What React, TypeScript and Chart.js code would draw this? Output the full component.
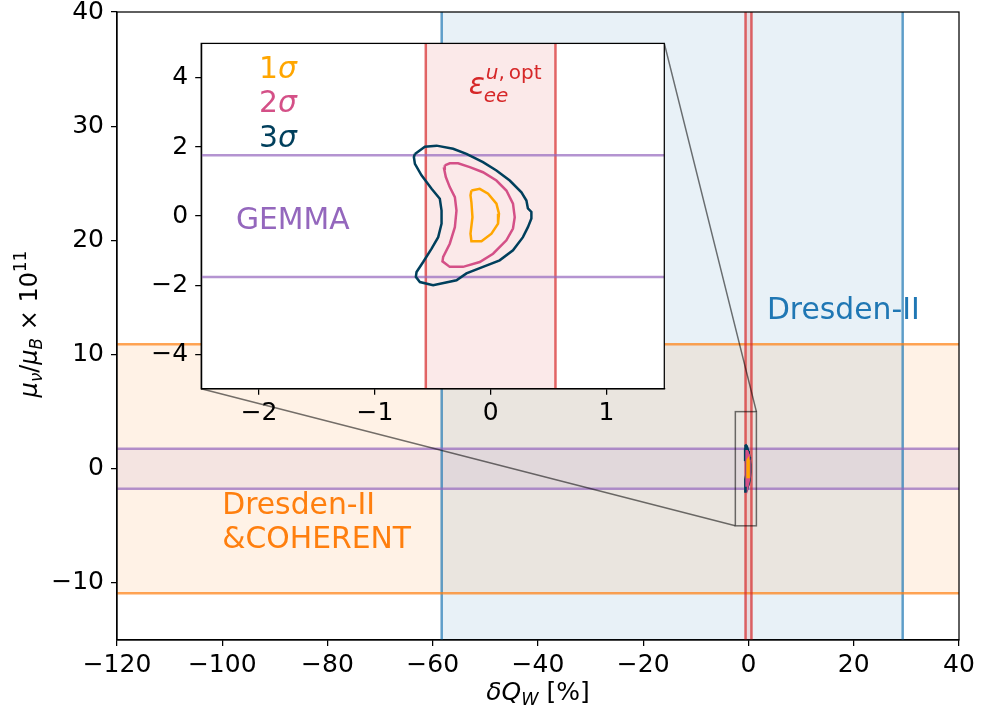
import React, { useEffect, useRef } from "react";
import { Chart, registerables } from "chart.js";
Chart.register(...registerables);

const W = 981;
const H = 715;
const FONT = '"DejaVu Sans", sans-serif';

// ---- main axes ----
const mainXRange = [-120, 40];
const mainYRange = [-15, 40];
const mainXTicks = [-120, -100, -80, -60, -40, -20, 0, 20, 40];
const mainYTicks = [-10, 0, 10, 20, 30, 40];

// ---- inset axes ----
const insetXRange = [-2.5, 1.5];
const insetYRange = [-5, 5];
const insetXTicks = [-2, -1, 0, 1];
const insetYTicks = [-4, -2, 0, 2, 4];
const insetBounds = [0.1, 0.4, 0.55, 0.55]; // axes fraction: x0, y0, width, height

// ---- limits ----
const dresdenQW = [-58.3, 29.3]; // delta Q_W [%]
const coherentMu = [-10.9, 10.9]; // mu_nu/mu_B x 1e11
const gemmaMu = [-1.76, 1.76];
const epsQW = [-0.56, 0.56];

// ---- contours ----
const sigma1X = [-0.166, -0.094, -0.022, 0.05, 0.072, 0.064, 0.007, -0.079, -0.166, -0.174, -0.157, -0.166, -0.174];
const sigma1Y = [0.74, 0.79, 0.65, 0.36, 0.07, -0.22, -0.51, -0.73, -0.73, -0.51, -0.03, 0.4, 0.6];
const sigma2X = [-0.396, -0.353, -0.281, -0.18, -0.066, 0.05, 0.136, 0.193, 0.208, 0.193, 0.136, 0.021, -0.094, -0.238, -0.353, -0.416, -0.41, -0.353, -0.309, -0.295, -0.309, -0.353, -0.387, -0.402];
const sigma2Y = [1.47, 1.53, 1.53, 1.42, 1.27, 1.03, 0.74, 0.36, -0.03, -0.36, -0.7, -1.09, -1.33, -1.47, -1.47, -1.31, -1.18, -0.8, -0.32, 0.16, 0.55, 0.84, 1.13, 1.37];
const sigma3X = [-0.654, -0.568, -0.467, -0.324, -0.209, -0.066, 0.05, 0.165, 0.266, 0.309, 0.322, 0.352, 0.352, 0.322, 0.279, 0.193, 0.078, -0.066, -0.209, -0.295, -0.497, -0.611, -0.646, -0.64, -0.583, -0.51, -0.453, -0.424, -0.424, -0.439, -0.51, -0.597, -0.654, -0.663];
const sigma3Y = [1.8, 2.01, 2.04, 1.95, 1.8, 1.56, 1.32, 1.03, 0.69, 0.45, 0.22, 0.12, -0.07, -0.32, -0.61, -0.99, -1.28, -1.47, -1.66, -1.86, -2.0, -1.91, -1.76, -1.62, -1.33, -0.94, -0.61, -0.22, 0.16, 0.5, 0.79, 1.18, 1.51, 1.71];

// ---- labels ----
const sigmaLabels = ["1", "2", "3"];
const sigmaColors = ["#ffa600", "#d45087", "#003f5c"];
const sigmaLabelY = [4, 3, 2];
const sigmaLabelX = -2;
const dresdenLabelPos = [3.5, 13.1];
const coherentLabelPos = [-100, -4.0, -6.95];
const gemmaLabelPos = [-2.2, -0.36];
const epsLabelPos = [-0.19, 3.54];

const BLUE = "#1f77b4";
const ORANGE = "#ff7f0e";
const PURPLE = "#9467bd";
const RED = "#d62728";
const rgba = (hex: string, a: number) => {
  const n = parseInt(hex.slice(1), 16);
  return `rgba(${(n >> 16) & 255},${(n >> 8) & 255},${n & 255},${a})`;
};

const TXT = 29.8;

// layout of the main plot area (pixels)
const MAIN = { left: 117, top: 12, right: 959, bottom: 640 };
const INSET = {
  left: MAIN.left + insetBounds[0] * (MAIN.right - MAIN.left),
  right: MAIN.left + (insetBounds[0] + insetBounds[2]) * (MAIN.right - MAIN.left),
  bottom: MAIN.bottom - insetBounds[1] * (MAIN.bottom - MAIN.top),
  top: MAIN.bottom - (insetBounds[1] + insetBounds[3]) * (MAIN.bottom - MAIN.top),
};

type Run = { t: string; it?: boolean; sc?: number; dy?: number };
const runFont = (r: Run, size: number) => `${r.it ? "italic " : ""}${size * (r.sc ?? 1)}px ${FONT}`;
function richWidth(ctx: CanvasRenderingContext2D, runs: Run[], size: number) {
  let w = 0;
  for (const r of runs) {
    ctx.font = runFont(r, size);
    w += ctx.measureText(r.t).width;
  }
  return w;
}
function drawRich(ctx: CanvasRenderingContext2D, runs: Run[], x: number, y: number, size: number, color: string, align = "left", rot = 0) {
  ctx.save();
  ctx.translate(x, y);
  if (rot) ctx.rotate(rot);
  ctx.fillStyle = color;
  ctx.textBaseline = "alphabetic";
  ctx.textAlign = "left";
  let cx = align === "center" ? -richWidth(ctx, runs, size) / 2 : 0;
  for (const r of runs) {
    ctx.font = runFont(r, size);
    ctx.fillText(r.t, cx, -(r.dy ?? 0) * size);
    cx += ctx.measureText(r.t).width;
  }
  ctx.restore();
  return cx;
}

const fmt = (v: number | string) => {
  const n = Number(v);
  return n < 0 ? "\u2212" + Math.abs(n) : String(n);
};

const closed = (xs: number[], ys: number[]) => {
  const d = xs.map((x, i) => ({ x, y: ys[i] }));
  d.push({ x: xs[0], y: ys[0] });
  return d;
};

// Chart.js paints dataset 0 last (on top): 1 sigma first so it sits on top
const contourDatasets = (lw: number) =>
  [
    [sigma1X, sigma1Y, sigmaColors[0]],
    [sigma2X, sigma2Y, sigmaColors[1]],
    [sigma3X, sigma3Y, sigmaColors[2]],
  ].map(([xs, ys, c]) => ({
    data: closed(xs as number[], ys as number[]),
    borderColor: c as string,
    backgroundColor: c as string,
    borderWidth: lw,
    showLine: true,
    pointRadius: 0,
    tension: 0,
    fill: false,
  }));

const axisCommon = (ticks: number[], fontSize: number, pad: number) => ({
  type: "linear" as const,
  afterBuildTicks: (s: any) => {
    s.ticks = ticks.map((v) => ({ value: v }));
  },
  ticks: {
    callback: (v: any) => fmt(v),
    font: { family: FONT, size: fontSize },
    color: "#000",
    padding: pad,
    maxRotation: 0,
    autoSkip: false,
  },
  grid: { drawOnChartArea: false, drawTicks: true, tickLength: 6, color: "#000", lineWidth: 1.25 },
  border: { display: true, color: "#000", width: 1.25 },
});

export default function App() {
  const mainRef = useRef<HTMLCanvasElement>(null);
  const insetRef = useRef<HTMLCanvasElement>(null);

  useEffect(() => {
    document.body.style.margin = "0";
    const mainPlugin = {
      id: "mainDecor",
      beforeDatasetsDraw(chart: any) {
        const { ctx, chartArea: a, scales } = chart;
        const x = scales.x, y = scales.y;
        ctx.save();
        ctx.beginPath();
        ctx.rect(a.left, a.top, a.right - a.left, a.bottom - a.top);
        ctx.clip();
        const vband = (r: number[], c: string, al: number) => {
          const x0 = x.getPixelForValue(r[0]), x1 = x.getPixelForValue(r[1]);
          ctx.fillStyle = rgba(c, al);
          ctx.fillRect(x0, a.top, x1 - x0, a.bottom - a.top);
        };
        const hband = (r: number[], c: string, al: number) => {
          const y0 = y.getPixelForValue(r[1]), y1 = y.getPixelForValue(r[0]);
          ctx.fillStyle = rgba(c, al);
          ctx.fillRect(a.left, y0, a.right - a.left, y1 - y0);
        };
        vband(dresdenQW, BLUE, 0.1);
        hband(coherentMu, ORANGE, 0.1);
        hband(gemmaMu, PURPLE, 0.1);
        vband(epsQW, RED, 0.1);
        const vline = (v: number, c: string) => {
          const px = x.getPixelForValue(v);
          ctx.strokeStyle = rgba(c, 0.7);
          ctx.lineWidth = 2.5;
          ctx.beginPath();
          ctx.moveTo(px, a.top);
          ctx.lineTo(px, a.bottom);
          ctx.stroke();
        };
        const hline = (v: number, c: string) => {
          const py = y.getPixelForValue(v);
          ctx.strokeStyle = rgba(c, 0.7);
          ctx.lineWidth = 2.5;
          ctx.beginPath();
          ctx.moveTo(a.left, py);
          ctx.lineTo(a.right, py);
          ctx.stroke();
        };
        dresdenQW.forEach((v) => vline(v, BLUE));
        coherentMu.forEach((v) => hline(v, ORANGE));
        gemmaMu.forEach((v) => hline(v, PURPLE));
        epsQW.forEach((v) => vline(v, RED));
        ctx.restore();
      },
      afterDatasetsDraw(chart: any) {
        const { ctx, chartArea: a, scales } = chart;
        const x = scales.x, y = scales.y;
        // zoom rectangle
        const rx0 = x.getPixelForValue(insetXRange[0]), rx1 = x.getPixelForValue(insetXRange[1]);
        const ry0 = y.getPixelForValue(insetYRange[1]), ry1 = y.getPixelForValue(insetYRange[0]);
        ctx.save();
        ctx.strokeStyle = "rgba(0,0,0,0.55)";
        ctx.lineWidth = 1.5;
        ctx.strokeRect(rx0, ry0, rx1 - rx0, ry1 - ry0);
        const w = a.right - a.left, h = a.bottom - a.top;
        const iL = a.left + insetBounds[0] * w;
        const iR = a.left + (insetBounds[0] + insetBounds[2]) * w;
        const iB = a.bottom - insetBounds[1] * h;
        const iT = a.bottom - (insetBounds[1] + insetBounds[3]) * h;
        ctx.beginPath();
        ctx.moveTo(iR, iT);
        ctx.lineTo(rx1, ry0);
        ctx.moveTo(iL, iB);
        ctx.lineTo(rx0, ry1);
        ctx.stroke();
        ctx.restore();
        // texts
        drawRich(ctx, [{ t: "Dresden-II" }], x.getPixelForValue(dresdenLabelPos[0]), y.getPixelForValue(dresdenLabelPos[1]), TXT, BLUE);
        drawRich(ctx, [{ t: "Dresden-II" }], x.getPixelForValue(coherentLabelPos[0]), y.getPixelForValue(coherentLabelPos[1]), TXT, ORANGE);
        drawRich(ctx, [{ t: "&COHERENT" }], x.getPixelForValue(coherentLabelPos[0]), y.getPixelForValue(coherentLabelPos[2]), TXT, ORANGE);
      },
      afterDraw(chart: any) {
        const { ctx, chartArea: a } = chart;
        ctx.save();
        ctx.strokeStyle = "#000";
        ctx.lineWidth = 1.25;
        ctx.strokeRect(a.left, a.top, a.right - a.left, a.bottom - a.top);
        ctx.restore();
        drawRich(
          ctx,
          [{ t: "\u03b4Q", it: true }, { t: "W", it: true, sc: 0.7, dy: -0.2 }, { t: " [%]" }],
          (a.left + a.right) / 2,
          a.bottom + 60,
          25,
          "#000",
          "center"
        );
        drawRich(
          ctx,
          [
            { t: "\u03bc", it: true },
            { t: "\u03bd", it: true, sc: 0.7, dy: -0.2 },
            { t: "/" },
            { t: "\u03bc", it: true },
            { t: "B", it: true, sc: 0.7, dy: -0.2 },
            { t: " \u00d7 10" },
            { t: "11", sc: 0.7, dy: 0.45 },
          ],
          a.left - 80,
          (a.top + a.bottom) / 2 - 2,
          24,
          "#000",
          "center",
          -Math.PI / 2
        );
      },
    };

    const mainX: any = axisCommon(mainXTicks, 25, 4);
    mainX.min = mainXRange[0];
    mainX.max = mainXRange[1];
    mainX.afterFit = (s: any) => {
      s.height = H - MAIN.bottom;
      s.paddingLeft = 0;
      s.paddingRight = 0;
    };
    const mainY: any = axisCommon(mainYTicks, 25, 7);
    mainY.min = mainYRange[0];
    mainY.max = mainYRange[1];
    mainY.afterFit = (s: any) => {
      s.width = MAIN.left;
      s.paddingTop = 0;
      s.paddingBottom = 0;
    };

    const main = new Chart(mainRef.current as HTMLCanvasElement, {
      type: "scatter",
      data: { datasets: contourDatasets(2.5) as any },
      options: {
        responsive: false,
        devicePixelRatio: 1,
        animation: false,
        layout: { padding: { left: 0, top: MAIN.top, right: W - MAIN.right, bottom: 0 } },
        plugins: { legend: { display: false }, tooltip: { enabled: false } },
        scales: { x: mainX, y: mainY },
        events: [],
      },
      plugins: [mainPlugin],
    });

    const INSET_YW = 60;
    const INSET_XH = 50;
    const insetPlugin = {
      id: "insetDecor",
      beforeDraw(chart: any) {
        const { ctx, chartArea: a } = chart;
        ctx.save();
        ctx.fillStyle = "#fff";
        ctx.fillRect(a.left, a.top, a.right - a.left, a.bottom - a.top);
        ctx.restore();
      },
      beforeDatasetsDraw(chart: any) {
        const { ctx, chartArea: a, scales } = chart;
        const x = scales.x, y = scales.y;
        ctx.save();
        ctx.beginPath();
        ctx.rect(a.left, a.top, a.right - a.left, a.bottom - a.top);
        ctx.clip();
        const ex0 = x.getPixelForValue(epsQW[0]), ex1 = x.getPixelForValue(epsQW[1]);
        ctx.fillStyle = rgba(RED, 0.1);
        ctx.fillRect(ex0, a.top, ex1 - ex0, a.bottom - a.top);
        ctx.lineWidth = 2.5;
        ctx.strokeStyle = rgba(RED, 0.7);
        for (const v of epsQW) {
          const px = x.getPixelForValue(v);
          ctx.beginPath();
          ctx.moveTo(px, a.top);
          ctx.lineTo(px, a.bottom);
          ctx.stroke();
        }
        ctx.strokeStyle = rgba(PURPLE, 0.7);
        for (const v of gemmaMu) {
          const py = y.getPixelForValue(v);
          ctx.beginPath();
          ctx.moveTo(a.left, py);
          ctx.lineTo(a.right, py);
          ctx.stroke();
        }
        ctx.restore();
      },
      afterDatasetsDraw(chart: any) {
        const { ctx, scales } = chart;
        const x = scales.x, y = scales.y;
        sigmaLabels.forEach((l, i) => {
          drawRich(ctx, [{ t: l }, { t: "\u03c3", it: true }], x.getPixelForValue(sigmaLabelX), y.getPixelForValue(sigmaLabelY[i]), TXT, sigmaColors[i]);
        });
        drawRich(ctx, [{ t: "GEMMA" }], x.getPixelForValue(gemmaLabelPos[0]), y.getPixelForValue(gemmaLabelPos[1]), TXT, PURPLE);
        const ex = x.getPixelForValue(epsLabelPos[0]);
        const ey = y.getPixelForValue(epsLabelPos[1]);
        const after = drawRich(ctx, [{ t: "\u03b5", it: true }], ex, ey, TXT, RED);
        drawRich(ctx, [{ t: "u", it: true }, { t: "," }, { t: "\u2009opt" }], ex + after + 1, ey - 0.5 * TXT, 20, RED);
        drawRich(ctx, [{ t: "ee", it: true }], ex + after - 1, ey + 0.27 * TXT, 20, RED);
      },
      afterDraw(chart: any) {
        const { ctx, chartArea: a } = chart;
        ctx.save();
        ctx.strokeStyle = "#000";
        ctx.lineWidth = 1.25;
        ctx.strokeRect(a.left, a.top, a.right - a.left, a.bottom - a.top);
        ctx.restore();
      },
    };

    const inX: any = axisCommon(insetXTicks, 25, 4);
    inX.min = insetXRange[0];
    inX.max = insetXRange[1];
    inX.afterFit = (s: any) => {
      s.height = INSET_XH;
      s.paddingLeft = 0;
      s.paddingRight = 0;
    };
    const inY: any = axisCommon(insetYTicks, 25, 7);
    inY.min = insetYRange[0];
    inY.max = insetYRange[1];
    inY.afterFit = (s: any) => {
      s.width = INSET_YW;
      s.paddingTop = 0;
      s.paddingBottom = 0;
    };

    const inset = new Chart(insetRef.current as HTMLCanvasElement, {
      type: "scatter",
      data: { datasets: contourDatasets(2.5) as any },
      options: {
        responsive: false,
        devicePixelRatio: 1,
        animation: false,
        layout: {
          padding: {
            left: INSET.left - INSET_YW,
            top: INSET.top,
            right: W - INSET.right,
            bottom: H - INSET.bottom - INSET_XH,
          },
        },
        plugins: { legend: { display: false }, tooltip: { enabled: false } },
        scales: { x: inX, y: inY },
        events: [],
      },
      plugins: [insetPlugin],
    });

    return () => {
      main.destroy();
      inset.destroy();
    };
  }, []);

  return (
    <div style={{ position: "relative", width: W, height: H, background: "#fff" }}>
      <canvas ref={mainRef} width={W} height={H} style={{ position: "absolute", left: 0, top: 0 }} />
      <canvas ref={insetRef} width={W} height={H} style={{ position: "absolute", left: 0, top: 0 }} />
    </div>
  );
}
